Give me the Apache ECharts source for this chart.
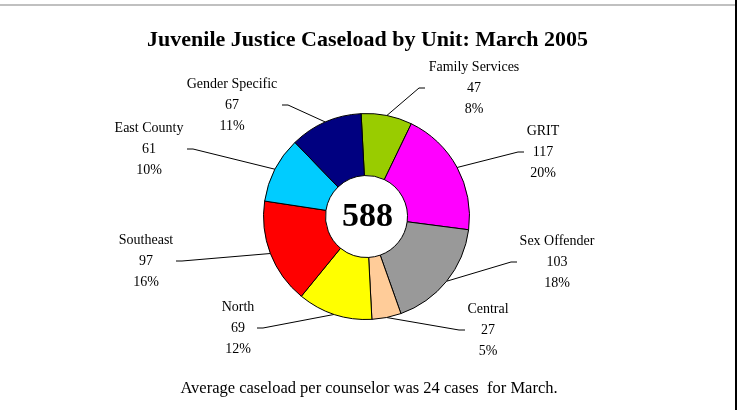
<!DOCTYPE html>
<html>
<head>
<meta charset="utf-8">
<title>Juvenile Justice Caseload by Unit</title>
<script src="https://cdn.jsdelivr.net/npm/echarts@6/dist/echarts.min.js"></script>
<style>
    html, body { margin: 0; padding: 0; background: #fff; }
    #main { width: 741px; height: 410px; }
</style>
</head>
<body>
<div id="main"></div>
<script>
// data, clockwise from top
const units = ['Family Services', 'GRIT', 'Sex Offender', 'Central', 'North', 'Southeast', 'East County', 'Gender Specific'];
const caseloads = [47, 117, 103, 27, 69, 97, 61, 67];
const unitColors = ['#99cc00', '#ff00ff', '#999999', '#ffcc99', '#ffff00', '#ff0000', '#00ccff', '#000080'];
const footnote = 'Average caseload per counselor was 24 cases  for March.';

// where each label sits: [text center x, middle line y, leader end x]
const labelSpots = [
    [474, 88, 425],
    [543, 152, 524],
    [557, 262, 517],
    [488, 330, 465],
    [238, 328, 257],
    [146, 261, 176],
    [149, 149, 187],
    [232, 105, 282]
];

const pieCenter = [366.5, 216.5];
const serif = '"Liberation Serif", "Times New Roman", serif';

let total = 0;
for (let v of caseloads) {
    total += v;
}

let pieData = [];
for (let i = 0; i < units.length; i++) {
    pieData.push({ name: units[i], value: caseloads[i], itemStyle: { color: unitColors[i] } });
}

const chart = echarts.init(document.getElementById('main'), null, { renderer: 'canvas' });

chart.setOption({
    backgroundColor: '#fff',
    animation: false,
    graphic: [
        // frame edges
        { type: 'rect', shape: { x: 0, y: 4, width: 735, height: 2 }, style: { fill: '#c0c0c0' } },
        { type: 'rect', shape: { x: 735, y: 0, width: 2, height: 410 }, style: { fill: '#000' } },
        {
            type: 'text', x: 367.5, y: 40,
            style: {
                text: 'Juvenile Justice Caseload by Unit: March 2005',
                font: 'bold 22px ' + serif, fill: '#000',
                textAlign: 'center', textVerticalAlign: 'middle'
            }
        },
        {
            type: 'text', x: pieCenter[0] + 1, y: pieCenter[1] + 1, z: 10,
            style: {
                text: String(total),
                font: 'bold 34px ' + serif, fill: '#000',
                textAlign: 'center', textVerticalAlign: 'middle'
            }
        },
        {
            type: 'text', x: 369, y: 389,
            style: {
                text: footnote,
                font: '16.5px ' + serif, fill: '#000',
                textAlign: 'center', textVerticalAlign: 'middle'
            }
        }
    ],
    series: [
        {
            name: 'Caseload',
            type: 'pie',
            center: pieCenter,
            radius: [41, 103],
            startAngle: 93,
            clockwise: true,
            percentPrecision: 0,
            avoidLabelOverlap: false,
            emphasis: { disabled: true },
            itemStyle: { borderColor: '#000', borderWidth: 1 },
            label: {
                show: true,
                position: 'outside',
                formatter: '{b}\n{c}\n{d}%',
                fontFamily: serif,
                fontSize: 14,
                lineHeight: 21,
                color: '#000'
            },
            labelLine: {
                show: true,
                length: 10,
                length2: 10,
                lineStyle: { color: '#000', width: 1 }
            },
            labelLayout: function (params) {
                const spot = labelSpots[params.dataIndex];
                const start = params.labelLinePoints[0];
                // short flat stub next to the label, pointing back toward the ring
                const dir = spot[0] < pieCenter[0] ? 1 : -1;
                return {
                    x: spot[0],
                    y: spot[1],
                    align: 'center',
                    verticalAlign: 'middle',
                    labelLinePoints: [
                        [start[0], start[1]],
                        [spot[2] + dir * 6, spot[1]],
                        [spot[2], spot[1]]
                    ]
                };
            },
            data: pieData
        }
    ]
});
</script>
</body>
</html>
